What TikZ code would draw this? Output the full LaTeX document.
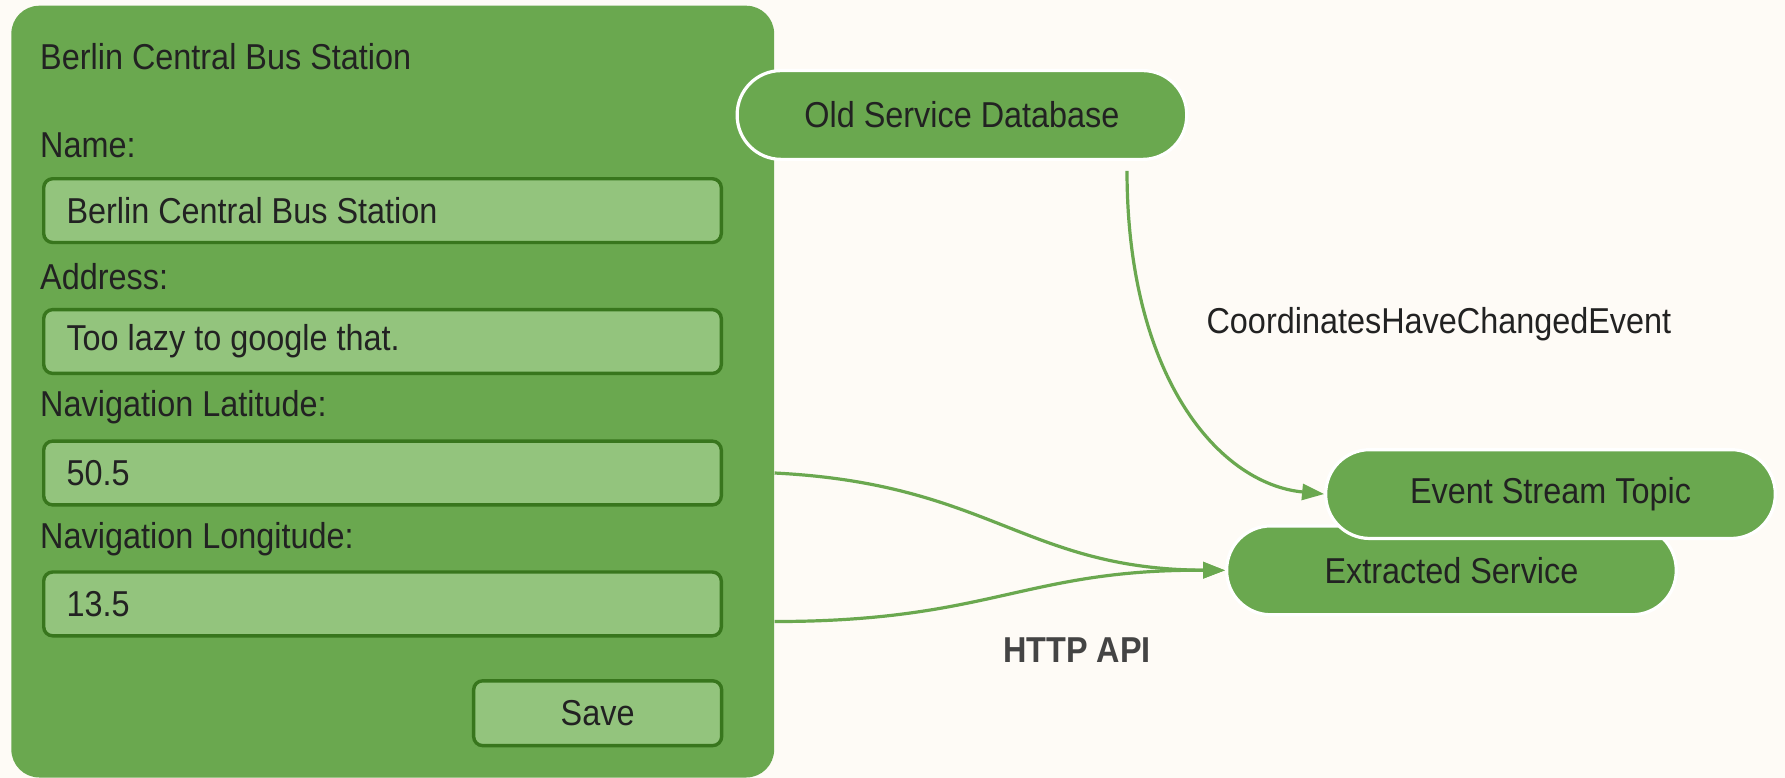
\documentclass[tikz,border=0pt]{standalone}
\usepackage{fontspec}
\setmainfont{Liberation Sans}[FakeStretch=0.9]
\usetikzlibrary{arrows.meta}

\definecolor{paper}{HTML}{FEFBF6}
\definecolor{leaf}{HTML}{6AA84F}
\definecolor{leaflight}{HTML}{93C47D}
\definecolor{leafdark}{HTML}{38761D}
\definecolor{ink}{HTML}{222222}
\definecolor{inkgray}{HTML}{444444}

\newcommand{\uifont}{\fontsize{18pt}{21.5pt}\selectfont}

\begin{document}
\begin{tikzpicture}[x=0.5692pt,y=-0.5692pt,
  every node/.style={font=\uifont,text=ink},
  fieldname/.style={anchor=west,inner sep=0pt},
  field/.style={draw=leafdark,fill=leaflight,line width=1.7pt,rounded corners=4.5pt,
    minimum height=31.9pt,text width=316pt,inner xsep=11.4pt,align=flush left},
  savebtn/.style={draw=leafdark,fill=leaflight,line width=1.7pt,rounded corners=4.5pt,
    minimum width=124pt,minimum height=32.4pt},
  pill/.style={fill=leaf,draw=white,line width=1.6pt,rounded corners=22pt,
    minimum width=224.8pt,minimum height=44.4pt},
  link/.style={draw=leaf,line width=1.6pt,-{Triangle[length=11pt,width=8pt]}}]

\fill[paper] (0,0) rectangle (1568,683);

% form panel
\node[fill=leaf,rounded corners=14pt,minimum width=381.4pt,minimum height=385.9pt,inner sep=0pt] (panel) at (345,344) {};

\node[fieldname] (title) at (35,50) {Berlin Central Bus Station};

\node[fieldname] (nameLbl) at (35,128) {Name:};
\node[field] (nameField) at (336,185) {Berlin Central Bus Station};

\node[fieldname] (addrLbl) at (35,243) {Address:};
\node[field] (addrField) at (336,300) {Too lazy to google that.};

\node[fieldname] (latLbl) at (35,358) {Navigation Latitude:};
\node[field] (latField) at (336,415.5) {50.5};

\node[fieldname] (lonLbl) at (35,474) {Navigation Longitude:};
\node[field] (lonField) at (336,530.5) {13.5};

\node[savebtn] (save) at (525,626.5) {Save};

% services
\node[pill] (oldDb) at (845,101) {Old Service Database};
\node[pill] (extracted) at (1275,501) {Extracted Service};
\node[pill] (topic) at (1362,434) {Event Stream Topic};

\coordinate (dbOut) at (990,150);
\coordinate (latOut) at (panel.east |- latField.east);
\coordinate (lonOut) at ([yshift=-8.8pt]panel.east |- lonField.east);

\draw[link] (dbOut) .. controls (990,330) and (1070,425) .. (topic.west);
\draw[link] (latOut) .. controls (870,425) and (900,500) .. (extracted.west);
\draw[link] (lonOut) .. controls (870,546) and (900,500) .. (extracted.west);

\node (eventLbl) at (1264,285) {CoordinatesHaveChangedEvent};
\node[font=\uifont\bfseries,text=inkgray] (apiLbl) at (946,571) {HTTP API};

\end{tikzpicture}
\end{document}
